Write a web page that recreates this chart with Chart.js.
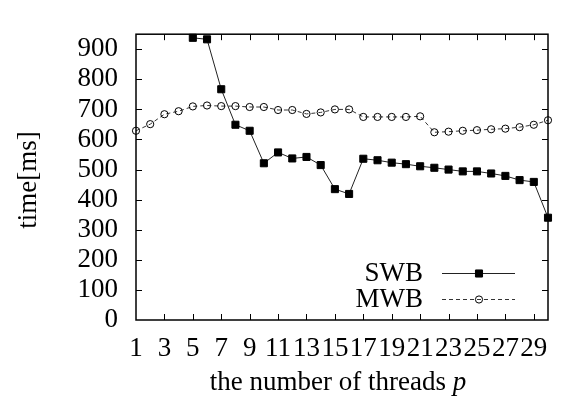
<!DOCTYPE html>
<html>
<head>
<meta charset="utf-8">
<script src="https://cdn.jsdelivr.net/npm/chart.js@4/dist/chart.umd.min.js"></script>
<style>
html,body{margin:0;padding:0;background:#fff;}
#wrap{width:561px;height:406px;position:relative;}
</style>
</head>
<body>
<div id="wrap"><canvas id="c" width="561" height="406"></canvas></div>
<script>
// ---- data ----
const threads = [1,2,3,4,5,6,7,8,9,10,11,12,13,14,15,16,17,18,19,20,21,22,23,24,25,26,27,28,29,30];
const swbValues = [null,null,null,null,938,933,767,649,629,521,557,537,542,515,435,419,536,531,523,518,511,506,500,494,494,487,479,465,459,340];
const mwbValues = [629,651,684,694,710,713,711,711,708,708,698,698,685,690,700,700,675,675,675,675,677,624,626,629,631,634,636,641,649,664];
const xTickValues = [1,3,5,7,9,11,13,15,17,19,21,23,25,27,29];
const yTickValues = [0,100,200,300,400,500,600,700,800,900];
const seriesNames = ['SWB','MWB'];
const xTitle = 'the number of threads ';
const xTitleItalic = 'p';
const yTitle = 'time[ms]';

const FONT = "Liberation Serif";
const FS = 27;

const frame = {
  id: 'frame',
  afterDatasetsDraw(chart) {
    const {ctx, chartArea: a, scales} = chart;
    ctx.save();
    ctx.strokeStyle = '#000';
    ctx.lineWidth = 1;
    const tl = 6;
    ctx.beginPath();
    scales.x.ticks.forEach(t => {
      const px = Math.round(scales.x.getPixelForValue(t.value)) + 0.5;
      if (px <= a.left + 1 || px >= a.right - 1) return;
      ctx.moveTo(px, a.bottom); ctx.lineTo(px, a.bottom - tl);
      ctx.moveTo(px, a.top); ctx.lineTo(px, a.top + tl);
    });
    scales.y.ticks.forEach(t => {
      const py = Math.round(scales.y.getPixelForValue(t.value)) + 0.5;
      if (py >= a.bottom - 1 || py <= a.top + 1) return;
      ctx.moveTo(a.left, py); ctx.lineTo(a.left + tl, py);
      ctx.moveTo(a.right, py); ctx.lineTo(a.right - tl, py);
    });
    ctx.stroke();
    ctx.lineWidth = 1.5;
    ctx.strokeRect(a.left, a.top, a.right - a.left, a.bottom - a.top);

    // axis titles
    ctx.fillStyle = '#000';
    ctx.font = FS + 'px ' + FONT;
    ctx.textBaseline = 'alphabetic';
    const w1 = ctx.measureText(xTitle).width;
    ctx.font = 'italic ' + FS + 'px ' + FONT;
    const w2 = ctx.measureText(xTitleItalic).width;
    const cx = (a.left + a.right) / 2 - 4;
    let sx = cx - (w1 + w2) / 2;
    ctx.font = FS + 'px ' + FONT;
    ctx.textAlign = 'left';
    ctx.fillText(xTitle, sx, 390);
    ctx.font = 'italic ' + FS + 'px ' + FONT;
    ctx.fillText(xTitleItalic, sx + w1, 390);

    ctx.save();
    ctx.translate(36, 180);
    ctx.rotate(-Math.PI / 2);
    ctx.font = FS + 'px ' + FONT;
    ctx.textAlign = 'center';
    ctx.fillText(yTitle, 0, 0);
    ctx.restore();

    // legend
    const rows = [273, 299];
    chart.data.datasets.forEach((ds, i) => {
      const y = rows[i];
      ctx.font = FS + 'px ' + FONT;
      ctx.textAlign = 'right';
      ctx.textBaseline = 'middle';
      ctx.fillStyle = '#000';
      ctx.fillText(ds.label, 423, y + 1);
      ctx.save();
      ctx.strokeStyle = ds.borderColor;
      ctx.lineWidth = ds.borderWidth;
      ctx.setLineDash(ds.borderDash || []);
      ctx.beginPath();
      ctx.moveTo(442, y + 0.5); ctx.lineTo(515, y + 0.5);
      ctx.stroke();
      ctx.restore();
      ctx.save();
      ctx.strokeStyle = ds.pointBorderColor;
      ctx.fillStyle = ds.pointBackgroundColor;
      ctx.lineWidth = ds.pointBorderWidth;
      Chart.helpers.drawPoint(ctx, {pointStyle: ds.pointStyle, radius: ds.pointRadius, borderWidth: ds.pointBorderWidth}, 479, y + 0.5);
      ctx.restore();
    });
    ctx.restore();
  }
};

Chart.defaults.font.family = FONT;
Chart.defaults.font.size = FS;
Chart.defaults.color = '#000';

new Chart(document.getElementById('c'), {
  type: 'line',
  data: {
    datasets: [
      {
        label: seriesNames[0],
        data: threads.map((t, i) => ({x: t, y: swbValues[i]})),
        borderColor: '#222',
        borderWidth: 1,
        pointStyle: 'rect',
        pointRadius: 5,
        pointBorderWidth: 1,
        pointBorderColor: '#000',
        pointBackgroundColor: '#000',
        spanGaps: false,
        clip: false,
        tension: 0
      },
      {
        label: seriesNames[1],
        data: threads.map((t, i) => ({x: t, y: mwbValues[i]})),
        borderColor: '#333',
        borderWidth: 1,
        borderDash: [4, 3],
        pointStyle: 'circle',
        pointRadius: 3.6,
        pointBorderWidth: 1,
        pointBorderColor: '#000',
        pointBackgroundColor: 'rgba(0,0,0,0)',
        clip: false,
        tension: 0
      }
    ]
  },
  options: {
    responsive: false,
    animation: false,
    layout: {padding: {left: 0, right: 13, top: 11, bottom: 0}},
    plugins: {legend: {display: false}, tooltip: {enabled: false}},
    scales: {
      x: {
        type: 'linear',
        min: 1, max: 30,
        afterBuildTicks: s => { s.ticks = xTickValues.map(v => ({value: v})); },
        afterFit: s => { s.height = 86; },
        grid: {display: false, drawTicks: false},
        border: {display: false},
        ticks: {
          color: '#000', padding: 13, maxRotation: 0, minRotation: 0, autoSkip: false,
          font: {family: FONT, size: FS}
        }
      },
      y: {
        type: 'linear',
        min: 0, max: 950,
        afterBuildTicks: s => { s.ticks = yTickValues.map(v => ({value: v})); },
        afterFit: s => { s.width = 136; },
        grid: {display: false, drawTicks: false},
        border: {display: false},
        ticks: {
          color: '#000', padding: 18, autoSkip: false,
          font: {family: FONT, size: FS}
        }
      }
    }
  },
  plugins: [frame]
});
</script>
</body>
</html>
